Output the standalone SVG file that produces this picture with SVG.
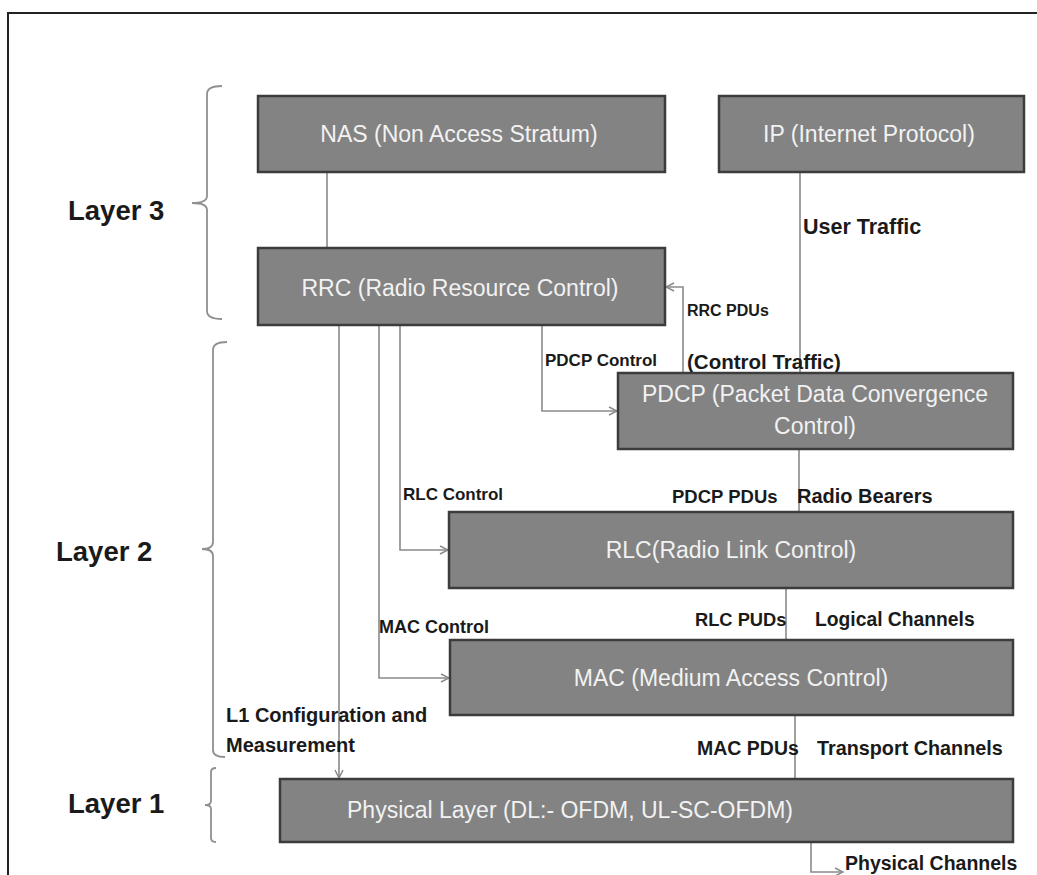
<svg xmlns="http://www.w3.org/2000/svg" width="1037" height="875" viewBox="0 0 1037 875">
  <style>
    .box { fill: #838383; stroke: #3c3c3c; stroke-width: 2.5; }
    .btxt { font-family: "Liberation Sans", Arial, sans-serif; font-size: 23px; fill: #f2f2f2; text-anchor: middle; }
    .lbl { font-family: "Liberation Sans", Arial, sans-serif; font-weight: bold; fill: #1a1a1a; }
    .layer { font-family: "Liberation Sans", Arial, sans-serif; font-weight: bold; font-size: 27.5px; fill: #1a1a1a; }
    .wire { fill: none; stroke: #8a8a8a; stroke-width: 1.6; }
    .brace { fill: none; stroke: #909090; stroke-width: 1.8; }
  </style>
  <defs>
    <marker id="chev" viewBox="0 0 10 10" refX="9" refY="5" markerWidth="10" markerHeight="10" markerUnits="userSpaceOnUse" orient="auto">
      <path d="M1,1 L9,5 L1,9" fill="none" stroke="#8a8a8a" stroke-width="1.5"/>
    </marker>
  </defs>

  <rect width="1037" height="875" fill="#ffffff"/>
  <!-- outer frame -->
  <path d="M8,875 L8,13 L1037,13" fill="none" stroke="#222" stroke-width="2"/>

  <!-- layer braces and labels -->
  <g id="layer3">
    <path class="brace" d="M222,86 Q207,86 207,94 L207,196 Q207,203 192,203 Q207,203 207,210 L207,311 Q207,319 222,319"/>
    <text class="layer" x="68" y="220">Layer 3</text>
  </g>
  <g id="layer2">
    <path class="brace" d="M227,342 Q213,342 213,350 L213,542 Q213,549 202,549 Q213,549 213,556 L213,750 Q213,757 225,757"/>
    <text class="layer" x="56" y="561">Layer 2</text>
  </g>
  <g id="layer1">
    <path class="brace" d="M216,768 Q211,768 211,772 L211,801 Q211,805 205,805 Q211,805 211,809 L211,838 Q211,842 216,842"/>
    <text class="layer" x="68" y="813">Layer 1</text>
  </g>

  <!-- connectors -->
  <g id="connectors">
    <path class="wire" d="M327,172 L327,248"/>
    <path class="wire" d="M800,172 L800,373"/>
    <path class="wire" d="M683,373 L683,287 L666,287" marker-end="url(#chev)"/>
    <path class="wire" d="M542,325 L542,411 L617,411" marker-end="url(#chev)"/>
    <path class="wire" d="M400,325 L400,550 L448,550" marker-end="url(#chev)"/>
    <path class="wire" d="M379,325 L379,678 L449,678" marker-end="url(#chev)"/>
    <path class="wire" d="M339,325 L339,778" marker-end="url(#chev)"/>
    <path class="wire" d="M799,449 L799,512"/>
    <path class="wire" d="M786,588 L786,640"/>
    <path class="wire" d="M795,715 L795,778"/>
    <path class="wire" d="M811,842 L811,872 L843,872" marker-end="url(#chev)"/>

    <text class="lbl" x="687" y="316" font-size="16">RRC PDUs</text>
    <text class="lbl" x="545" y="366" font-size="17">PDCP Control</text>
    <text class="lbl" x="687" y="369" font-size="20.5">(Control Traffic)</text>
    <text class="lbl" x="803" y="234" font-size="21.5">User Traffic</text>
    <text class="lbl" x="403" y="500" font-size="17">RLC Control</text>
    <text class="lbl" x="672" y="503" font-size="18.5">PDCP PDUs</text>
    <text class="lbl" x="797" y="503" font-size="20">Radio Bearers</text>
    <text class="lbl" x="379" y="633" font-size="18">MAC Control</text>
    <text class="lbl" x="695" y="626" font-size="18.3">RLC PUDs</text>
    <text class="lbl" x="815" y="626" font-size="19.3">Logical Channels</text>
    <text class="lbl" x="226" y="722" font-size="20">L1 Configuration and</text>
    <text class="lbl" x="226" y="752" font-size="20">Measurement</text>
    <text class="lbl" x="697" y="755" font-size="19.5">MAC PDUs</text>
    <text class="lbl" x="817" y="755" font-size="19.8">Transport Channels</text>
    <text class="lbl" x="845" y="870" font-size="19.5">Physical Channels</text>
  </g>

  <!-- protocol blocks -->
  <g id="nas">
    <rect class="box" x="258" y="96" width="407" height="76"/>
    <text class="btxt" x="459" y="142">NAS (Non Access Stratum)</text>
  </g>
  <g id="ip">
    <rect class="box" x="719" y="96" width="305" height="76"/>
    <text class="btxt" x="869" y="142">IP (Internet  Protocol)</text>
  </g>
  <g id="rrc">
    <rect class="box" x="258" y="248" width="407" height="77"/>
    <text class="btxt" x="460" y="296">RRC (Radio Resource Control)</text>
  </g>
  <g id="pdcp">
    <rect class="box" x="618" y="373" width="395" height="76"/>
    <text class="btxt" x="815" y="402">PDCP (Packet Data Convergence</text>
    <text class="btxt" x="815" y="434">Control)</text>
  </g>
  <g id="rlc">
    <rect class="box" x="449" y="512" width="564" height="76"/>
    <text class="btxt" x="731" y="558">RLC(Radio Link Control)</text>
  </g>
  <g id="mac">
    <rect class="box" x="450" y="640" width="563" height="75"/>
    <text class="btxt" x="731" y="686">MAC (Medium Access Control)</text>
  </g>
  <g id="phy">
    <rect class="box" x="280" y="779" width="733" height="63"/>
    <text class="btxt" x="570" y="818">Physical Layer (DL:- OFDM, UL-SC-OFDM)</text>
  </g>
</svg>
